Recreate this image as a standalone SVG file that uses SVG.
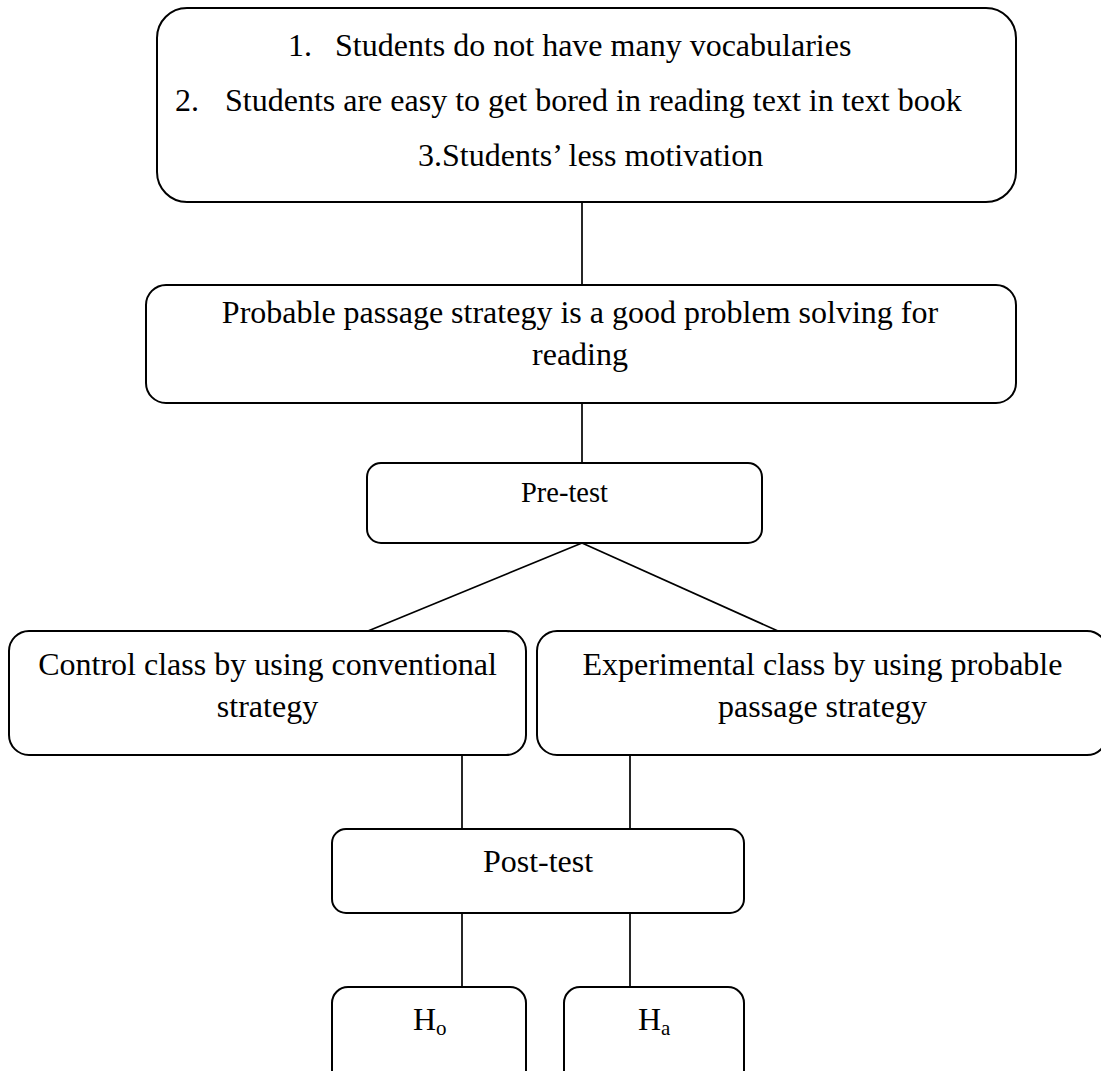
<svg xmlns="http://www.w3.org/2000/svg" width="1101" height="1071" viewBox="0 0 1101 1071">
<style>
.box{fill:#fff;stroke:#000;stroke-width:2}
.t{font-family:"Liberation Serif","Times New Roman",serif;font-size:32px;fill:#000}
.tc{text-anchor:middle}
.c{stroke:#000;stroke-width:1.7;fill:none}
</style>
<rect width="1101" height="1071" fill="#fff"/>
<g id="connectors">
<line class="c" x1="582" y1="202" x2="582" y2="285"/>
<line class="c" x1="582" y1="403" x2="582" y2="463"/>
<line class="c" x1="582" y1="543" x2="368" y2="631"/>
<line class="c" x1="582" y1="543" x2="778" y2="631"/>
<line class="c" x1="462" y1="755" x2="462" y2="829"/>
<line class="c" x1="630" y1="755" x2="630" y2="829"/>
<line class="c" x1="462" y1="913" x2="462" y2="987"/>
<line class="c" x1="630" y1="913" x2="630" y2="987"/>
</g>
<g id="problems">
<rect class="box" x="157" y="8" width="859" height="194" rx="30" ry="30"/>
<text class="t" x="288" y="56">1.</text>
<text class="t" x="335" y="56">Students do not have many vocabularies</text>
<text class="t" x="175" y="111">2.</text>
<text class="t" x="225" y="111">Students are easy to get bored in reading text in text book</text>
<text class="t" x="418" y="166">3.Students’ less motivation</text>
</g>
<g id="solution">
<rect class="box" x="146" y="285" width="870" height="118" rx="20" ry="20"/>
<text class="t tc" x="580" y="323">Probable passage strategy is a good problem solving for</text>
<text class="t tc" x="580" y="365">reading</text>
</g>
<g id="pretest">
<rect class="box" x="367" y="463" width="395" height="80" rx="14" ry="14"/>
<text class="t tc" x="564.5" y="502" style="font-size:28.5px">Pre-test</text>
</g>
<g id="control">
<rect class="box" x="9" y="631" width="517" height="124" rx="20" ry="20"/>
<text class="t tc" x="267.5" y="675">Control class by using conventional</text>
<text class="t tc" x="267.5" y="717">strategy</text>
</g>
<g id="experimental">
<rect class="box" x="537" y="631" width="570" height="124" rx="20" ry="20"/>
<text class="t tc" x="822.5" y="675">Experimental class by using probable</text>
<text class="t tc" x="822.5" y="717">passage strategy</text>
</g>
<g id="posttest">
<rect class="box" x="332" y="829" width="412" height="84" rx="14" ry="14"/>
<text class="t tc" x="538" y="872">Post-test</text>
</g>
<g id="ho">
<rect class="box" x="332" y="987" width="194" height="100" rx="16" ry="16"/>
<text class="t" x="413" y="1030">H<tspan font-size="21" dy="5">o</tspan></text>
</g>
<g id="ha">
<rect class="box" x="564" y="987" width="180" height="100" rx="16" ry="16"/>
<text class="t" x="638" y="1030">H<tspan font-size="21" dy="5">a</tspan></text>
</g>
</svg>
